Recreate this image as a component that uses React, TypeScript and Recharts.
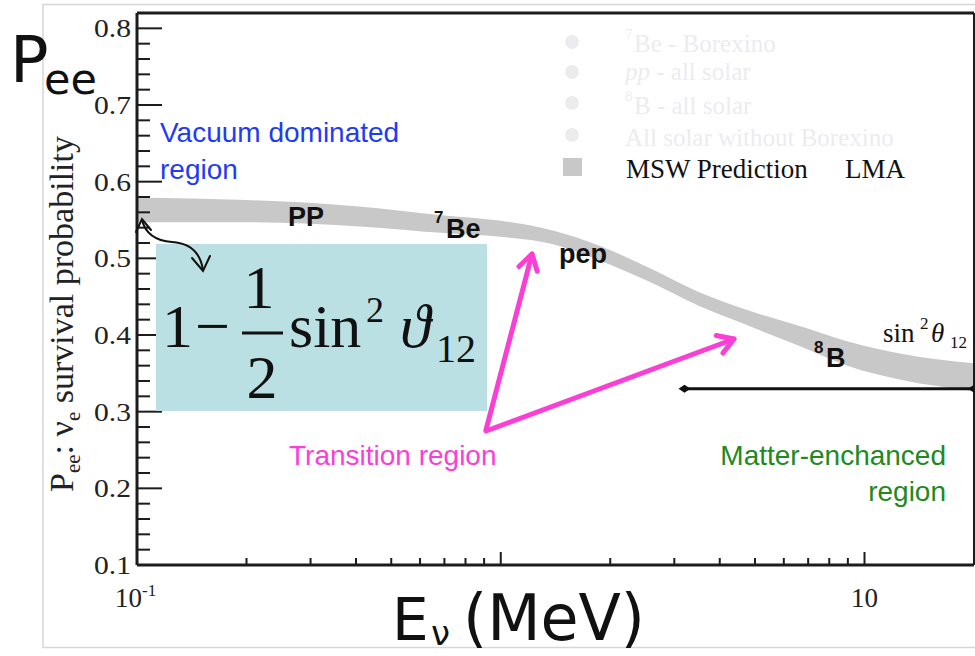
import { ComposedChart, Area, Line, XAxis, YAxis } from 'recharts';

// LMA-MSW prediction band for the electron-neutrino survival probability
const energies = [0.1, 0.2, 0.4, 0.7, 1.0, 1.4, 1.9, 2.6, 3.5, 4.8, 6.6, 9.1, 12.5, 20];
const bandLow = [0.547, 0.547, 0.542, 0.533, 0.528, 0.518, 0.496, 0.468, 0.438, 0.412, 0.386, 0.359, 0.342, 0.327];
const bandHigh = [0.579, 0.576, 0.568, 0.556, 0.549, 0.536, 0.515, 0.486, 0.456, 0.432, 0.412, 0.391, 0.376, 0.363];

// high-energy limit sin^2(theta12)
const plateauEnergies = [3.2, 20];
const plateauValues = [0.33, 0.33];

const xTicks = [0.1, 0.2, 0.3, 0.4, 0.5, 0.6, 0.7, 0.8, 0.9, 1, 2, 3, 4, 5, 6, 7, 8, 9, 10, 20];
const xMajor = [0.1, 1, 10];
const yMajor = [0.1, 0.2, 0.3, 0.4, 0.5, 0.6, 0.7, 0.8];
const yTicks = Array.from({ length: 36 }, (_, i) => Math.round((0.1 + i * 0.02) * 100) / 100);

const bandRows = energies.map((e, i) => ({ e, band: [bandLow[i], bandHigh[i]] }));
const plateauRows = plateauEnergies.map((e, i) => ({ e, p: plateauValues[i] }));

const AXIS = '#1c1c1c';
const SERIF = '"Liberation Serif", "DejaVu Serif", serif';
const SANS = '"Liberation Sans", Arial, sans-serif';
const HAND = '"DejaVu Sans", sans-serif';
const PINK = '#fa3fd5';

function YTick(props: any) {
  const { x, y, payload } = props;
  const major = yMajor.some((m) => Math.abs(m - payload.value) < 1e-6);
  return (
    <g>
      <line x1={x} x2={x + (major ? 25 : 13)} y1={y} y2={y} stroke={AXIS} strokeWidth={2} />
      {major && (
        <text x={x - 6} y={y} dy="0.35em" textAnchor="end" fontFamily={SERIF} fontSize={26}
          fill="#222" textLength={37} lengthAdjust="spacingAndGlyphs">
          {payload.value.toFixed(1)}
        </text>
      )}
    </g>
  );
}

function XTick(props: any) {
  const { x, y, payload } = props;
  const v = payload.value;
  const major = xMajor.includes(v);
  return (
    <g>
      <line x1={x} x2={x} y1={y} y2={y - (major ? 13 : 7)} stroke={AXIS} strokeWidth={2} />
      {v === 0.1 && (
        <text x={x - 22} y={y + 42} fontFamily={SERIF} fontSize={27} fill="#222">
          10<tspan dy={-11} fontSize={17}>-1</tspan>
        </text>
      )}
      {v === 10 && (
        <text x={x} y={y + 42} textAnchor="middle" fontFamily={SERIF} fontSize={27} fill="#222">10</text>
      )}
    </g>
  );
}

function Diamond(props: any) {
  const { cx, cy } = props;
  if (cx == null || cy == null) return null;
  return <path d={`M${cx - 6},${cy} L${cx},${cy - 4} L${cx + 6},${cy} L${cx},${cy + 4} Z`} fill="#111" />;
}

function arrowHead(x1: number, y1: number, x2: number, y2: number, len = 18, spread = 0.55) {
  const a = Math.atan2(y2 - y1, x2 - x1);
  const ax = x2 - len * Math.cos(a - spread);
  const ay = y2 - len * Math.sin(a - spread);
  const bx = x2 - len * Math.cos(a + spread);
  const by = y2 - len * Math.sin(a + spread);
  return `M${ax},${ay} L${x2},${y2} L${bx},${by}`;
}

const faint = '#ececf0';

function Annotations() {
  return (
    <svg width={975} height={656} style={{ position: 'absolute', left: 0, top: 0, pointerEvents: 'none' }}>
      {/* outer frame */}
      <rect x={43} y={4.5} width={940} height={643} fill="none" stroke="#d6d6d6" strokeWidth={1.5} />

      {/* legend */}
      {[42, 72, 103, 135].map((cy) => (
        <circle key={cy} cx={572} cy={cy} r={7} fill={faint} />
      ))}
      <g fontFamily={SERIF} fontSize={25} fill={faint}>
        <text x={625} y={39} fontSize={15}>7</text>
        <text x={634} y={52}>Be - Borexino</text>
        <text x={625} y={80}><tspan fontStyle="italic">pp</tspan> - all solar</text>
        <text x={625} y={101} fontSize={15}>8</text>
        <text x={634} y={114}>B - all solar</text>
        <text x={625} y={146}>All solar without Borexino</text>
      </g>
      <rect x={563} y={158} width={19} height={18} fill="#c8c8c8" />
      <text x={626} y={178} fontFamily={SERIF} fontSize={27} fill="#111">MSW Prediction</text>
      <text x={845} y={178} fontFamily={SERIF} fontSize={27} fill="#111">LMA</text>

      {/* big axis titles */}
      <text x={10} y={82} fontFamily={HAND} fontSize={64} fill="#111">P</text>
      <text x={44} y={94} fontFamily={HAND} fontSize={43} fill="#111">ee</text>
      <text x={392} y={640} fontFamily={HAND} fontSize={58} fill="#111">E</text>
      <text x={431} y={645} fontFamily={HAND} fontSize={34} fill="#111">ν</text>
      <text x={463} y={640} fontFamily={HAND} fontSize={64} fill="#111" textLength={182} lengthAdjust="spacingAndGlyphs">(MeV)</text>

      {/* rotated axis label */}
      <text transform="translate(73,314) rotate(-90)" textAnchor="middle" fontFamily={SERIF} fontSize={34} fill="#222">
        P<tspan fontSize={21} dy={7}>ee</tspan><tspan dy={-7}>:  ν</tspan><tspan fontSize={21} dy={7}>e</tspan><tspan dy={-7}> survival probability</tspan>
      </text>

      {/* vacuum-limit formula */}
      <rect x={156} y={244} width={331} height={167} fill="#bae0e3" />
      <g fontFamily={SERIF} fill="#111">
        <text x={162} y={347} fontSize={62}>1</text>
        <text x={195} y={347} fontSize={62}>−</text>
        <text x={259} y={308} fontSize={62} textAnchor="middle">1</text>
        <line x1={242} x2={283} y1={333} y2={333} stroke="#111" strokeWidth={3} />
        <text x={262} y={398} fontSize={62} textAnchor="middle">2</text>
        <text x={289} y={347} fontSize={62}>sin</text>
        <text x={366} y={322} fontSize={36}>2</text>
        <text x={400} y={347} fontSize={62} fontStyle="italic">ϑ</text>
        <text x={436} y={362} fontSize={40}>12</text>
      </g>

      {/* curly arrow from the band start to the formula */}
      <g fill="none" stroke="#111" strokeWidth={2} strokeLinecap="round">
        <path d="M142,220 C146,236 158,241 172,242 C188,243 200,250 203,270" />
        <path d="M136,232 L142,219 L151,230" />
        <path d="M192,258 L203,271 L210,256" />
      </g>

      {/* source labels */}
      <g fontFamily={SANS} fontWeight="bold" fill="#111">
        <text x={288} y={226} fontSize={27}>PP</text>
        <text x={434} y={223} fontSize={17}>7</text>
        <text x={446} y={238} fontSize={27}>Be</text>
        <text x={559} y={263} fontSize={27}>pep</text>
        <text x={814} y={353} fontSize={17}>8</text>
        <text x={826} y={367} fontSize={27}>B</text>
      </g>
      <g fontFamily={SERIF} fill="#111">
        <text x={883} y={342} fontSize={27}>sin</text>
        <text x={920} y={329} fontSize={17}>2</text>
        <text x={931} y={342} fontSize={27} fontStyle="italic">θ</text>
        <text x={950} y={348} fontSize={17}>12</text>
      </g>

      {/* region notes */}
      <g fontFamily={SANS} fontSize={28}>
        <text x={160} y={142} fill="#1f3bf5">Vacuum dominated</text>
        <text x={160} y={179} fill="#1f3bf5">region</text>
        <text x={289} y={465} fill={PINK}>Transition region</text>
        <text x={946} y={465} fill="#23891c" textAnchor="end">Matter-enchanced</text>
        <text x={946} y={501} fill="#23891c" textAnchor="end">region</text>
      </g>

      {/* transition arrows */}
      <g fill="none" stroke={PINK} strokeWidth={5} strokeLinecap="round" strokeLinejoin="round">
        <path d="M486,430 L532,254" />
        <path d={arrowHead(486, 430, 532, 254)} />
        <path d="M486,431 L734,339" />
        <path d={arrowHead(486, 431, 734, 339)} />
      </g>
    </svg>
  );
}

export default function App() {
  return (
    <div style={{ position: 'absolute', left: 0, top: 0, width: 975, height: 656, background: '#fff' }}>
      <ComposedChart width={975} height={656} data={bandRows} margin={{ top: 12, right: 0, bottom: 90, left: 136 }}>
        <XAxis type="number" dataKey="e" scale="log" domain={[0.1, 20]} ticks={xTicks} interval={0}
          height={1} tickSize={0} tickMargin={0} tickLine={false} tick={<XTick />}
          axisLine={{ stroke: AXIS, strokeWidth: 3 }} allowDataOverflow />
        <XAxis xAxisId="top" orientation="top" type="number" scale="log" domain={[0.1, 20]}
          height={1} tick={false} tickLine={false} axisLine={{ stroke: AXIS, strokeWidth: 3 }} />
        <YAxis type="number" domain={[0.1, 0.82]} ticks={yTicks} interval={0} width={1}
          tickSize={0} tickMargin={0} tickLine={false} tick={<YTick />}
          axisLine={{ stroke: AXIS, strokeWidth: 3 }} allowDataOverflow />
        <YAxis yAxisId="right" orientation="right" type="number" domain={[0.1, 0.82]} width={1}
          tick={false} tickLine={false} axisLine={{ stroke: AXIS, strokeWidth: 2 }} />
        <Area dataKey="band" type="monotone" stroke="none" fill="#c8c8c8" fillOpacity={1}
          isAnimationActive={false} activeDot={false} />
        <Line data={plateauRows} dataKey="p" type="linear" stroke="#111" strokeWidth={3}
          dot={<Diamond />} activeDot={false} isAnimationActive={false} />
      </ComposedChart>
      <Annotations />
    </div>
  );
}
